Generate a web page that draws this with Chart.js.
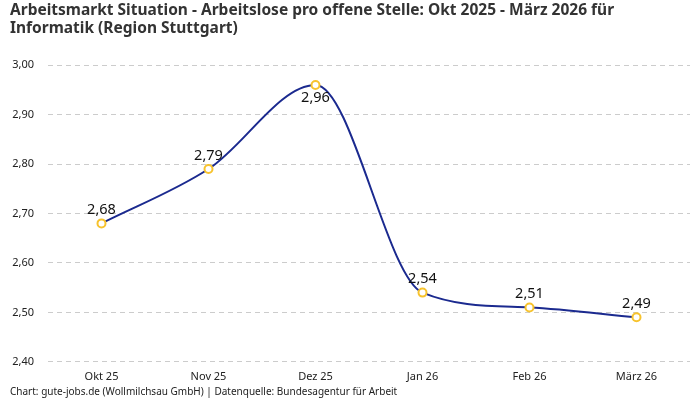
<!DOCTYPE html>
<html>
<head>
<meta charset="utf-8">
<script src="https://cdn.jsdelivr.net/npm/chart.js@4"></script>
<style>
  html, body { margin: 0; padding: 0; background: #fff; }
  #wrap { width: 700px; height: 400px; position: relative; }
</style>
</head>
<body>
<div id="wrap"><canvas id="chart"></canvas></div>
<script>
const months = ["Okt 25", "Nov 25", "Dez 25", "Jan 26", "Feb 26", "März 26"];
const ratio = [2.68, 2.79, 2.96, 2.54, 2.51, 2.49];
const labelBelow = [false, false, true, false, false, false];

const FONT = "'Noto Sans', 'Open Sans', sans-serif";
const fmt = v => v.toFixed(2).replace(".", ",");

// draws value labels next to each point
const valueLabels = {
  id: "valueLabels",
  afterDatasetsDraw(chart) {
    const ctx = chart.ctx;
    const pts = chart.getDatasetMeta(0).data;
    ctx.save();
    ctx.font = "14.5px " + FONT;
    ctx.fillStyle = "#111";
    ctx.textAlign = "center";
    pts.forEach((p, i) => {
      if (labelBelow[i]) {
        ctx.textBaseline = "top";
        ctx.fillText(fmt(ratio[i]), p.x, p.y + 6);
      } else {
        ctx.textBaseline = "bottom";
        ctx.fillText(fmt(ratio[i]), p.x, p.y - 6);
      }
    });
    ctx.restore();
  }
};

new Chart(document.getElementById("chart"), {
  type: "line",
  data: {
    labels: months,
    datasets: [{
      data: ratio,
      borderColor: "#1b2a8f",
      borderWidth: 2,
      cubicInterpolationMode: "monotone",
      pointRadius: 4,
      pointBorderWidth: 2,
      pointBorderColor: "#f7c32e",
      pointBackgroundColor: "#fff"
    }]
  },
  options: {
    responsive: true,
    maintainAspectRatio: false,
    animation: false,
    layout: { padding: { left: 10, right: 10, top: 0, bottom: 0 } },
    plugins: {
      legend: { display: false },
      tooltip: { enabled: false },
      title: {
        display: true,
        align: "start",
        text: ["Arbeitsmarkt Situation - Arbeitslose pro offene Stelle: Okt 2025 - März 2026 für", "Informatik (Region Stuttgart)"],
        color: "#333",
        font: { family: FONT, size: 15.5, weight: "bold", lineHeight: 1.2 },
        padding: { top: 1, bottom: 27 }
      },
      subtitle: {
        display: true,
        position: "bottom",
        align: "start",
        text: "Chart: gute-jobs.de (Wollmilchsau GmbH) | Datenquelle: Bundesagentur für Arbeit",
        color: "#222",
        font: { family: FONT, size: 10 },
        padding: { top: 3, bottom: 2 }
      }
    },
    scales: {
      x: {
        offset: true,
        grid: { display: false },
        border: { display: false },
        ticks: { color: "#222", font: { family: FONT, size: 11 }, padding: 0 }
      },
      y: {
        min: 2.4,
        max: 3.0,
        afterFit: s => { s.width = 38; },
        border: { display: false, dash: [5, 4] },
        grid: { color: "#ccc", drawTicks: false },
        ticks: {
          stepSize: 0.1,
          color: "#222",
          padding: 14,
          font: { family: FONT, size: 11 },
          callback: v => fmt(v)
        }
      }
    }
  },
  plugins: [valueLabels]
});
</script>
</body>
</html>
